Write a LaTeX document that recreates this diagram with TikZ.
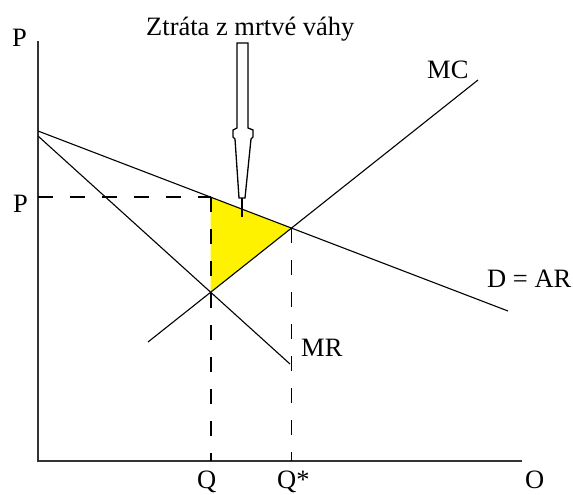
\documentclass[tikz,border=0pt]{standalone}
\usepackage{fontspec}
\setmainfont{Liberation Serif}
\usetikzlibrary{intersections}
\begin{document}
\begin{tikzpicture}[x=1pt,y=-1pt,
  axis/.style={line width=2pt, black!80},
  curve/.style={line width=1.1pt, black},
  guide/.style={line width=1.8pt, black, dash pattern=on 15pt off 17pt},
  lbl/.style={font=\fontsize{26.5}{30}\selectfont, inner sep=0pt, anchor=base west},
  blockarrow/.style={line width=1.3pt, black, fill=white, line join=miter}]
\useasboundingbox (0,0) rectangle (573,495);

% axes
\coordinate (origin) at (38,461);
\coordinate (ytop) at (38,41);
\coordinate (xend) at (522,461);
\draw[axis] (ytop) -- (origin) -- (xend);

% curves
\coordinate (ar0) at (38,131);
\coordinate (ar1) at (508,311);
\coordinate (mr0) at (38,136);
\coordinate (mr1) at (290,364);
\coordinate (mc0) at (148,342);
\coordinate (mc1) at (478,80);
\path[name path=AR] (ar0) -- (ar1);
\path[name path=MR] (mr0) -- (mr1);
\path[name path=MC] (mc0) -- (mc1);
\path[name intersections={of=MR and MC, by=C}];
\path[name intersections={of=AR and MC, by=B}];
\path[name path=QV] (C) -- ++(0,-200);
\path[name intersections={of=QV and AR, by=A}];

% deadweight loss triangle
\fill[yellow] (A) -- (B) -- (C) -- cycle;

% dashed guides
\draw[guide] (origin |- A) -- (A);
\draw[guide] (A) -- (A |- origin);
\draw[guide] (B) -- (B |- origin);

\draw[curve] (ar0) -- (ar1);
\draw[curve] (mr0) -- (mr1);
\draw[curve] (mc0) -- (mc1);

% block arrow
\draw[blockarrow] (237,43) -- (248,43) -- (248,128) -- (253,130) -- (253,137)
  -- (251,139) -- (245,198) -- (239,198) -- (235,139) -- (233,137)
  -- (233,130) -- (237,128) -- cycle;
\coordinate (tip0) at (242,198);
\coordinate (tip1) at (242,217);
\draw[line width=1.6pt] (tip0) -- (tip1);

% labels
\node[lbl] (title) at (146,36) {Ztráta z mrtvé váhy};
\node[lbl] (Paxis) at (12,47) {P};
\node[lbl] (Pval) at (13,212) {P};
\node[lbl] (Q) at (197,488) {Q};
\node[lbl] (Qstar) at (277,488) {Q*};
\node[lbl] (O) at (525,488) {O};
\node[lbl] (MC) at (427,78) {MC};
\node[lbl] (MR) at (301,356) {MR};
\node[lbl] (DAR) at (487,287) {D = AR};
\end{tikzpicture}
\end{document}
